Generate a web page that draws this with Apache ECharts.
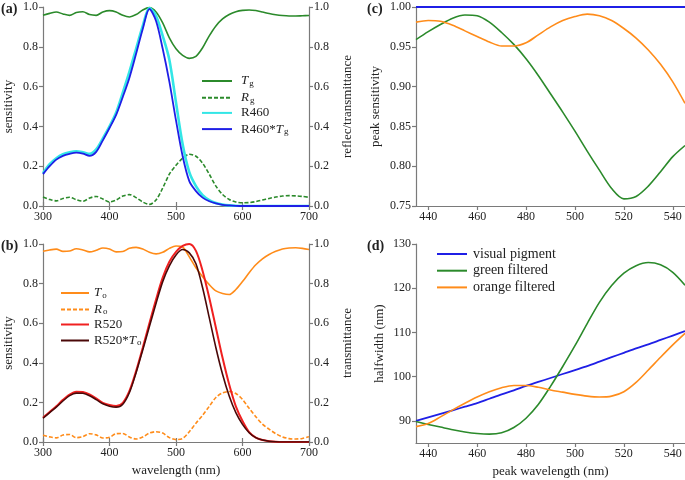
<!DOCTYPE html>
<html>
<head>
<meta charset="utf-8">
<script src="https://cdn.jsdelivr.net/npm/echarts@6/dist/echarts.min.js"></script>
<style>
  html, body { margin: 0; padding: 0; background: #fff; }
  #main { width: 685px; height: 480px; }
</style>
</head>
<body>
<div id="main"></div>
<script>
// wavelength grid for panels (a) and (b), nm
const wavelength = [300, 310, 320, 330, 340, 350, 360, 370, 380, 390, 400, 410, 420, 430, 440, 450, 460, 470, 480, 490, 500,
  510, 520, 530, 540, 550, 560, 570, 580, 590, 600, 610, 620, 630, 640, 650, 660, 670, 680, 690, 700]

// (a) green filter
const Tg = [0.958, 0.968, 0.975, 0.965, 0.958, 0.972, 0.976, 0.962, 0.958, 0.975, 0.982, 0.975, 0.958, 0.95, 0.962, 0.985, 0.997, 0.975, 0.92, 0.845, 0.79,
  0.757, 0.742, 0.752, 0.795, 0.855, 0.905, 0.94, 0.962, 0.976, 0.983, 0.985, 0.982, 0.975, 0.967, 0.961, 0.957, 0.955, 0.955, 0.956, 0.957]
const Rg = [0.045, 0.033, 0.026, 0.038, 0.044, 0.032, 0.024, 0.04, 0.048, 0.035, 0.02, 0.03, 0.05, 0.057, 0.042, 0.02, 0.008, 0.03, 0.09, 0.16, 0.205,
  0.24, 0.26, 0.25, 0.215, 0.16, 0.1, 0.058, 0.033, 0.02, 0.016, 0.017, 0.022, 0.03, 0.038, 0.045, 0.05, 0.052, 0.051, 0.048, 0.044]
const R460 = [0.165, 0.21, 0.24, 0.26, 0.27, 0.275, 0.27, 0.262, 0.285, 0.34, 0.40, 0.47, 0.57, 0.675, 0.79, 0.905, 0.995, 0.955, 0.855, 0.735, 0.52,
  0.31, 0.17, 0.10, 0.055, 0.03, 0.015, 0.007, 0.003, 0.001, 0, 0, 0, 0, 0, 0, 0, 0, 0, 0, 0]
const R460Tg = [0.16, 0.2, 0.233, 0.252, 0.262, 0.268, 0.263, 0.252, 0.272, 0.33, 0.392, 0.458, 0.548, 0.645, 0.765, 0.89, 0.99, 0.93, 0.79, 0.625, 0.43,
  0.25, 0.125, 0.075, 0.042, 0.024, 0.013, 0.006, 0.003, 0.001, 0, 0, 0, 0, 0, 0, 0, 0, 0, 0, 0]

// (b) orange filter
const To = [0.963, 0.97, 0.974, 0.963, 0.965, 0.976, 0.97, 0.96, 0.968, 0.98, 0.975, 0.96, 0.962, 0.978, 0.983, 0.975, 0.958, 0.95, 0.958, 0.978, 0.99,
  0.985, 0.935, 0.88, 0.835, 0.795, 0.763, 0.75, 0.745, 0.77, 0.81, 0.855, 0.895, 0.925, 0.947, 0.963, 0.975, 0.98, 0.981, 0.978, 0.972]
const Ro = [0.034, 0.026, 0.021, 0.035, 0.038, 0.022, 0.027, 0.042, 0.036, 0.02, 0.024, 0.042, 0.043, 0.025, 0.015, 0.025, 0.045, 0.052, 0.045, 0.022, 0.012,
  0.018, 0.052, 0.095, 0.135, 0.18, 0.225, 0.248, 0.255, 0.245, 0.215, 0.17, 0.128, 0.09, 0.065, 0.042, 0.026, 0.017, 0.015, 0.018, 0.026]
const R520 = [0.123, 0.152, 0.18, 0.213, 0.24, 0.254, 0.252, 0.24, 0.22, 0.198, 0.187, 0.182, 0.198, 0.258, 0.358, 0.476, 0.6, 0.72, 0.83, 0.91, 0.96,
  0.99, 1.0, 0.965, 0.864, 0.729, 0.577, 0.425, 0.29, 0.18, 0.106, 0.05, 0.022, 0.01, 0.004, 0.001, 0, 0, 0, 0, 0]
const R520To = [0.12, 0.148, 0.176, 0.207, 0.234, 0.247, 0.246, 0.234, 0.214, 0.193, 0.181, 0.176, 0.191, 0.25, 0.35, 0.465, 0.583, 0.7, 0.81, 0.89, 0.945,
  0.972, 0.955, 0.9, 0.779, 0.628, 0.476, 0.342, 0.232, 0.148, 0.089, 0.047, 0.022, 0.01, 0.004, 0.001, 0, 0, 0, 0, 0]

// peak wavelength grid for panels (c) and (d), nm
const peakWl = [435, 440, 445, 450, 455, 460, 465, 470, 475, 480, 485, 490, 495, 500, 505, 510, 515, 520, 525, 530, 535, 540, 545]

// (c) peak sensitivity
const peakVisual = [1, 1, 1, 1, 1, 1, 1, 1, 1, 1, 1, 1, 1, 1, 1, 1, 1, 1, 1, 1, 1, 1, 1]
const peakGreen = [0.959, 0.969, 0.978, 0.986, 0.99, 0.989, 0.981, 0.968, 0.953, 0.935, 0.914, 0.891, 0.868, 0.844, 0.819, 0.795, 0.772, 0.759, 0.762, 0.775, 0.793, 0.812, 0.826]
const peakOrange = [0.981, 0.983, 0.982, 0.977, 0.97, 0.963, 0.956, 0.951, 0.951, 0.955, 0.965, 0.975, 0.983, 0.988, 0.991, 0.989, 0.983, 0.973, 0.961, 0.946, 0.928, 0.906, 0.879]

// (d) halfwidth, nm
const hwVisual = [90.0, 90.8, 91.6, 92.4, 93.2, 94.0, 95.0, 96.0, 96.9, 97.9, 98.8, 99.7, 100.6, 101.5, 102.4, 103.4, 104.4, 105.4, 106.4, 107.3, 108.3, 109.3, 110.3]
const hwGreen = [89.85, 89.2, 88.6, 88.0, 87.5, 87.15, 87.0, 87.3, 88.5, 90.6, 93.7, 97.8, 102.3, 107.0, 112.0, 116.8, 120.6, 123.4, 125.1, 125.8, 125.3, 123.6, 120.7]
const hwOrange = [88.7, 89.4, 90.9, 92.5, 94.0, 95.4, 96.6, 97.5, 98.0, 98.0, 97.6, 97.0, 96.5, 96.0, 95.6, 95.4, 95.6, 96.6, 98.7, 101.5, 104.4, 107.2, 109.8]

const FONT = 'Liberation Serif'
const GREEN = '#2b8a2b'
const ORANGE = '#ff8c1a'
const BLUE = '#1f1fe6'
const CYAN = '#33e6e6'
const RED = '#f02020'
const DARK = '#4a0808'
const AXIS = '#7a7a7a'

function pairs (xs, ys) {
    return xs.map((x, i) => [x, ys[i]])
}

const axisLine = { lineStyle: { color: AXIS, width: 1.2 } }
const axisTick = { length: 4, lineStyle: { color: AXIS, width: 1.2 } }
const label12 = { fontFamily: FONT, fontSize: 12, color: '#222', margin: 5 }
const nameStyle = { fontFamily: FONT, fontSize: 13, color: '#222' }

function wlAxis (grid, position, showLabel, name) {
    return {
        type: 'value', gridIndex: grid, position: position, min: 300, max: 700, interval: 100,
        axisLine: axisLine, axisTick: axisTick, splitLine: { show: false },
        axisLabel: Object.assign({ show: showLabel }, label12),
        name: name || '', nameLocation: 'middle', nameGap: 22, nameTextStyle: nameStyle,
    }
}
function unitAxis (grid, position, name) {
    return {
        type: 'value', gridIndex: grid, position: position, min: 0, max: 1, interval: 0.2,
        axisLine: axisLine, axisTick: axisTick, splitLine: { show: false },
        axisLabel: Object.assign({ formatter: v => v.toFixed(1) }, label12),
        name: name, nameLocation: 'middle', nameRotate: 90,
        nameGap: position === 'left' ? 28 : 32, nameTextStyle: nameStyle,
    }
}
function peakAxis (grid, name) {
    return {
        type: 'value', gridIndex: grid, min: 435, max: 545, splitNumber: 5,
        axisLine: axisLine, axisTick: axisTick, splitLine: { show: false },
        axisLabel: Object.assign({ showMinLabel: false, showMaxLabel: false }, label12),
        name: name || '', nameLocation: 'middle', nameGap: 22, nameTextStyle: nameStyle,
    }
}

function line (name, x, y, xi, yi, color, width, dashed) {
    return {
        name: name, type: 'line', xAxisIndex: xi, yAxisIndex: yi,
        data: pairs(x, y), smooth: 0.3, symbol: 'none', silent: true,
        lineStyle: { color: color, width: width, type: dashed ? [4, 2] : 'solid' },
        itemStyle: { color: color },
    }
}

function legendRich (size) {
    return {
        n: { fontFamily: FONT, fontSize: size, color: '#222', lineHeight: 14 },
        i: { fontFamily: FONT, fontSize: size, fontStyle: 'italic', color: '#222', lineHeight: 14 },
        s: { fontFamily: FONT, fontSize: 9, color: '#222', verticalAlign: 'bottom', lineHeight: 14, padding: [6, 0, 0, 1] },
    }
}
const legendText = {
    'Tg': '{i|T}{s|g}', 'Rg': '{i|R}{s|g}', 'R460': '{n|R460}', 'R460*Tg': '{n|R460*}{i|T}{s|g}',
    'To': '{i|T}{s|o}', 'Ro': '{i|R}{s|o}', 'R520': '{n|R520}', 'R520*To': '{n|R520*}{i|T}{s|o}',
}
function legend (names, left, top, gap, pad, width, size) {
    return {
        data: names, left: left, top: top, orient: 'vertical', padding: 0,
        itemWidth: width, itemHeight: 14, itemGap: gap, selectedMode: false,
        itemStyle: { opacity: 0 },
        formatter: n => legendText[n] || ('{n|' + n + '}'),
        textStyle: { fontFamily: FONT, fontSize: size, color: '#222', rich: legendRich(size), padding: [0, 0, 0, pad] },
    }
}

const panelLabel = (text, left, top) => ({
    text: text, left: left, top: top, padding: 0,
    textStyle: { fontFamily: FONT, fontSize: 14, fontWeight: 'bold', color: '#222' },
})

const option = {
    backgroundColor: '#ffffff',
    animation: false,
    title: [
        panelLabel('(a)', 1, 2),
        panelLabel('(b)', 1, 239),
        panelLabel('(c)', 367, 2),
        panelLabel('(d)', 367, 239),
    ],
    grid: [
        { left: 43, top: 7, width: 266, height: 199 },
        { left: 43, top: 244, width: 266, height: 198 },
        { left: 416, top: 7, width: 269, height: 199 },
        { left: 416, top: 244, width: 269, height: 199 },
    ],
    xAxis: [
        wlAxis(0, 'bottom', true),
        wlAxis(0, 'top', false),
        wlAxis(1, 'bottom', true, 'wavelength (nm)'),
        wlAxis(1, 'top', false),
        peakAxis(2),
        peakAxis(3, 'peak wavelength (nm)'),
    ],
    yAxis: [
        unitAxis(0, 'left', 'sensitivity'),
        unitAxis(0, 'right', 'reflec/transmittance'),
        unitAxis(1, 'left', 'sensitivity'),
        unitAxis(1, 'right', 'transmittance'),
        {
            type: 'value', gridIndex: 2, min: 0.75, max: 1.0, interval: 0.05,
            axisLine: axisLine, axisTick: axisTick, splitLine: { show: false },
            axisLabel: Object.assign({ formatter: v => v.toFixed(2) }, label12),
            name: 'peak sensitivity', nameLocation: 'middle', nameRotate: 90, nameGap: 34, nameTextStyle: nameStyle,
        },
        {
            type: 'value', gridIndex: 3, min: 85, max: 130, splitNumber: 5,
            axisLine: axisLine, axisTick: axisTick, splitLine: { show: false },
            axisLabel: Object.assign({ showMinLabel: false }, label12),
            name: 'halfwidth (nm)', nameLocation: 'middle', nameRotate: 90, nameGap: 30, nameTextStyle: nameStyle,
        },
    ],
    legend: [
        legend(['Tg', 'Rg', 'R460', 'R460*Tg'], 201, 73, 1.7, 4, 30, 13),
        legend(['To', 'Ro', 'R520', 'R520*To'], 60, 285, 1.5, 0, 28, 13),
        legend(['visual pigment', 'green filtered', 'orange filtered'], 436, 247, 2.7, 1, 30, 14),
    ],
    series: [
        line('Tg', wavelength, Tg, 0, 1, GREEN, 1.6),
        line('Rg', wavelength, Rg, 0, 1, GREEN, 1.6, true),
        line('R460', wavelength, R460, 0, 0, CYAN, 2.6),
        line('R460*Tg', wavelength, R460Tg, 0, 0, BLUE, 1.8),

        line('To', wavelength, To, 2, 3, ORANGE, 1.6),
        line('Ro', wavelength, Ro, 2, 3, ORANGE, 1.6, true),
        line('R520', wavelength, R520, 2, 2, RED, 2.0),
        line('R520*To', wavelength, R520To, 2, 2, DARK, 1.6),

        line('c visual', peakWl, peakVisual, 4, 4, BLUE, 1.8),
        line('c green', peakWl, peakGreen, 4, 4, GREEN, 1.6),
        line('c orange', peakWl, peakOrange, 4, 4, ORANGE, 1.6),

        line('visual pigment', peakWl, hwVisual, 5, 5, BLUE, 1.8),
        line('green filtered', peakWl, hwGreen, 5, 5, GREEN, 1.6),
        line('orange filtered', peakWl, hwOrange, 5, 5, ORANGE, 1.6),
    ],
}

const myChart = echarts.init(document.getElementById('main'))
myChart.setOption(option)
</script>
</body>
</html>
